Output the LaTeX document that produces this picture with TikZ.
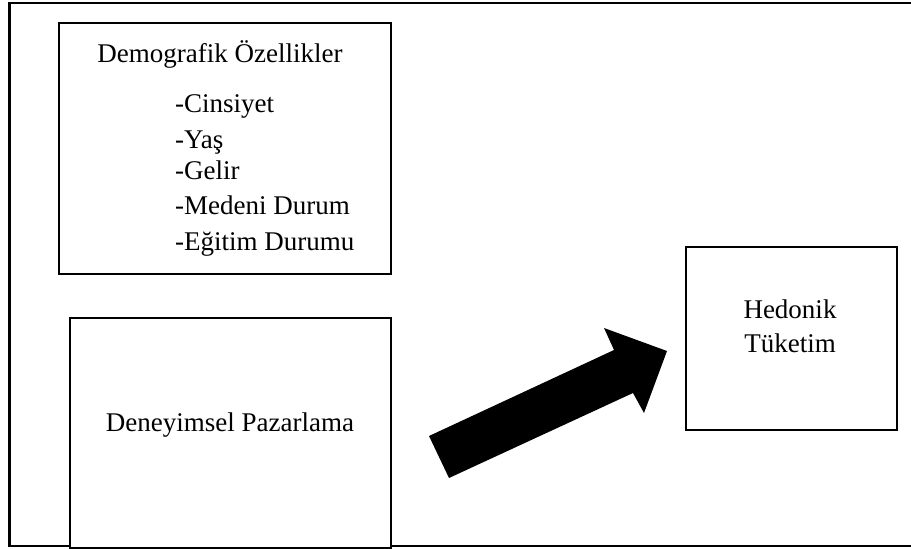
\documentclass[tikz,border=0pt]{standalone}
\usepackage{fontspec}
\setmainfont{Liberation Serif}
\begin{document}
\begin{tikzpicture}[x=1pt,y=-1pt,
  box/.style={draw,line width=2.4pt,inner sep=0pt,anchor=north west},
  lbl/.style={inner sep=0pt,font=\fontsize{27}{32}\selectfont}]
\useasboundingbox (0,0) rectangle (911,549);
% outer frame (right side cut off)
\draw[line width=2.4pt] (913,3) -- (9.5,3) -- (9.5,546) -- (913,546);
% boxes
\node[box,minimum width=332pt,minimum height=251pt] (demo) at (58,22) {};
\node[box,fill=white,minimum width=321pt,minimum height=230pt] (deney) at (69,317) {};
\node[box,minimum width=211pt,minimum height=183pt] (hedo) at (685,246) {};
% texts
\node[lbl,anchor=base] (t1) at (220,62) {Demografik Özellikler};
\node[lbl,anchor=base west] (c1) at (175,112) {-Cinsiyet};
\node[lbl,anchor=base west] (c2) at (175,148) {-Yaş};
\node[lbl,anchor=base west] (c3) at (175,179) {-Gelir};
\node[lbl,anchor=base west] (c4) at (175,214) {-Medeni Durum};
\node[lbl,anchor=base west] (c5) at (175,250) {-Eğitim Durumu};
\node[lbl,anchor=base] (dp) at (230,431) {Deneyimsel Pazarlama};
\node[lbl,anchor=base] (h1) at (790,318) {Hedonik};
\node[lbl,anchor=base] (h2) at (790,352) {Tüketim};
% block arrow
\coordinate (a1) at (429,436);
\coordinate (a2) at (614,350);
\coordinate (a3) at (604,328);
\coordinate (tip) at (667,351);
\coordinate (a5) at (644,413);
\coordinate (a6) at (633,393);
\coordinate (a7) at (449,478);
\fill[black] (a1) -- (a2) -- (a3) -- (tip) -- (a5) -- (a6) -- (a7) -- cycle;
\end{tikzpicture}
\end{document}
